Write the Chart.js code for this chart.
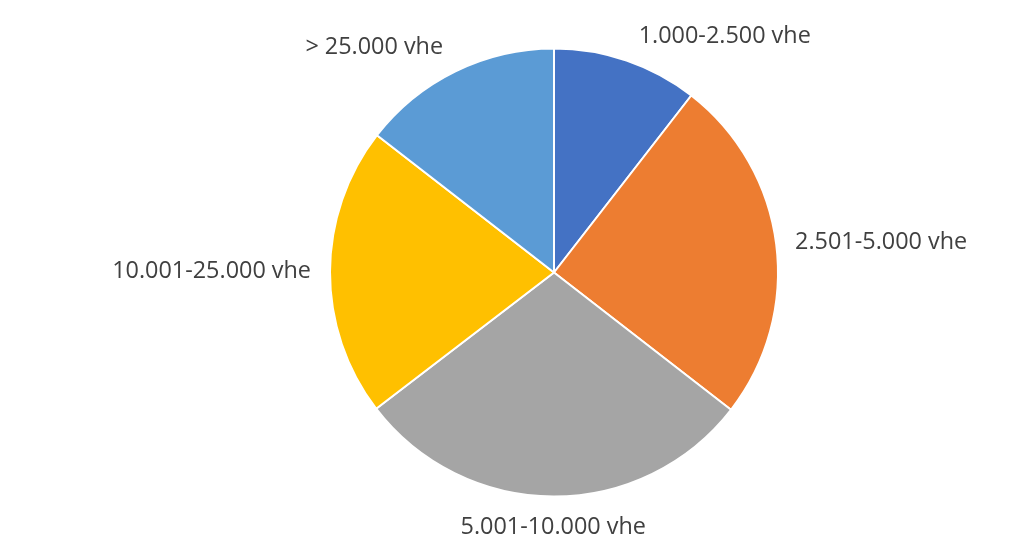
<!DOCTYPE html>
<html>
<head>
<meta charset="utf-8">
<script src="https://cdn.jsdelivr.net/npm/chart.js@4"></script>
<style>
  html, body { margin: 0; padding: 0; background: #ffffff; }
  #wrap { width: 1024px; height: 545px; }
</style>
</head>
<body>
<div id="wrap"><canvas id="pie"></canvas></div>
<script>
var categories = ["1.000-2.500 vhe", "2.501-5.000 vhe", "5.001-10.000 vhe", "10.001-25.000 vhe", "> 25.000 vhe"];
var shares = [10.5, 25, 29.1, 20.9, 14.5];
var sliceColors = ["#4472C4", "#ED7D31", "#A5A5A5", "#FFC000", "#5B9BD5"];

// labels outside the pie, anchored at the slice's middle angle
var outsideLabels = {
	id: 'outsideLabels',
	afterDatasetsDraw: function(chart){
		var ctx = chart.ctx;
		var meta = chart.getDatasetMeta(0);
		ctx.save();
		ctx.font = '23.4px "Open Sans"';
		ctx.fillStyle = '#404040';
		meta.data.forEach(function(arc, i){
			var p = arc.getProps(['x', 'y', 'startAngle', 'endAngle', 'outerRadius'], true);
			var mid = (p.startAngle + p.endAngle) / 2;
			var r = p.outerRadius + 19;
			var cx = Math.cos(mid), cy = Math.sin(mid);
			var x = p.x + r * cx, y = p.y + r * cy;
			if (cy < -0.3) x += cx > 0 ? 6 : -4;
			ctx.textAlign = cx > 0.3 ? 'left' : (cx < -0.3 ? 'right' : 'center');
			ctx.textBaseline = cy > 0.3 ? 'top' : (cy < -0.3 ? 'alphabetic' : 'middle');
			ctx.fillText(categories[i], x, y);
		});
		ctx.restore();
	}
};

new Chart(document.getElementById('pie').getContext('2d'), {
	type: 'pie',
	data: {
		labels: categories,
		datasets: [{
			data: shares,
			backgroundColor: sliceColors,
			borderColor: '#ffffff',
			borderWidth: 2,
			hoverOffset: 0
		}]
	},
	options: {
		responsive: true,
		maintainAspectRatio: false,
		animation: false,
		layout: { padding: { left: 329, right: 245, top: 47, bottom: 47 } },
		plugins: {
			legend: { display: false },
			tooltip: { enabled: false }
		}
	},
	plugins: [outsideLabels]
});
</script>
</body>
</html>
